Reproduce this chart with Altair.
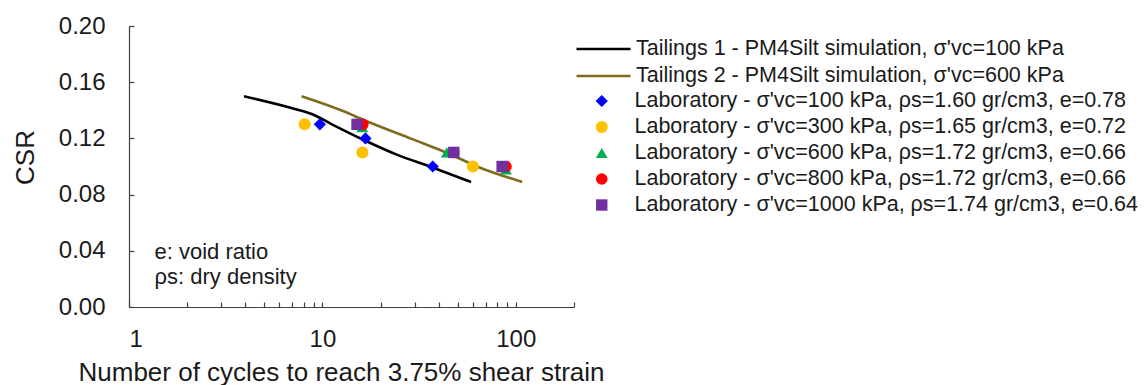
import altair as alt
import pandas as pd

FONT = "Liberation Sans"

# ---- simulation curves ----
line_labels = [
    "Tailings 1 - PM4Silt simulation, σ'vc=100 kPa",
    "Tailings 2 - PM4Silt simulation, σ'vc=600 kPa",
]
line_colors = ["#000000", "#806A1E"]
black_x = [3.93, 7.2, 8.8, 11.2, 16.7, 23.9, 37.1, 58.7]
black_y = [0.150, 0.141, 0.1374, 0.130, 0.1183, 0.1088, 0.0993, 0.089]
gold_x = [7.8, 12.6, 16.7, 29.2, 43.6, 64.9, 108]
gold_y = [0.150, 0.1398, 0.1326, 0.1195, 0.110, 0.0993, 0.089]

# ---- laboratory data ----
lab_labels = [
    "Laboratory - σ'vc=100 kPa, ρs=1.60 gr/cm3, e=0.78",
    "Laboratory - σ'vc=300 kPa, ρs=1.65 gr/cm3, e=0.72",
    "Laboratory - σ'vc=600 kPa, ρs=1.72 gr/cm3, e=0.66",
    "Laboratory - σ'vc=800 kPa, ρs=1.72 gr/cm3, e=0.66",
    "Laboratory - σ'vc=1000 kPa, ρs=1.74 gr/cm3, e=0.64",
]
lab_colors = ["#0000FF", "#FFC000", "#00B050", "#FF0000", "#7030A0"]
lab_shapes = ["diamond", "circle", "triangle-up", "circle", "square"]
lab_sizes = [150, 130, 200, 200, 150]
lab100_x = [9.7, 16.7, 37.2]
lab100_y = [0.13, 0.12, 0.10]
lab300_x = [8.1, 16.1, 60]
lab300_y = [0.13, 0.11, 0.10]
lab600_x = [16.1, 44, 89]
lab600_y = [0.128, 0.11, 0.098]
lab800_x = [16.2, 47.8, 89]
lab800_y = [0.13, 0.11, 0.10]
lab1000_x = [15.1, 47.8, 85]
lab1000_y = [0.13, 0.11, 0.10]

# ---- axes ----
x_label_values = [1, 10, 100]
x_tick_values = [1, 2, 3, 4, 5, 6, 7, 8, 9, 10, 20, 30, 40, 50, 60, 70, 80, 90, 100, 200]
y_values = [0.0, 0.04, 0.08, 0.12, 0.16, 0.20]

# ---- annotations ----
note_text = ["e: void ratio", "ρs: dry density"]
note_x = [1.355, 1.355]
note_y = [0.0394, 0.0217]

W, H = 445, 281

lines_df = pd.DataFrame({
    "N": black_x + gold_x,
    "CSR": black_y + gold_y,
    "series": [line_labels[0]] * len(black_x) + [line_labels[1]] * len(gold_x),
    "order": list(range(len(black_x))) + list(range(len(gold_x))),
})

rows = []
for lab, xs, ys in zip(lab_labels,
                       [lab100_x, lab300_x, lab600_x, lab800_x, lab1000_x],
                       [lab100_y, lab300_y, lab600_y, lab800_y, lab1000_y]):
    for xv, yv in zip(xs, ys):
        rows.append({"N": xv, "CSR": yv, "lab": lab})
points_df = pd.DataFrame(rows)

notes_df = pd.DataFrame({"N": note_x, "CSR": note_y, "text": note_text})

x_scale = alt.Scale(type="log", domain=[1, 200])
y_scale = alt.Scale(domain=[0, 0.2])

lines = alt.Chart(lines_df).mark_line(strokeWidth=2.6, interpolate="monotone").encode(
    x=alt.X("N:Q", scale=x_scale,
            axis=alt.Axis(values=x_label_values, format="d", ticks=False, tickSize=0,
                          labelPadding=20, labelFontSize=24, labelFont=FONT,
                          title="Number of cycles to reach 3.75% shear strain",
                          titleFontSize=26, titleFont=FONT, titleFontWeight="normal",
                          titlePadding=8, titleX=212)),
    y=alt.Y("CSR:Q", scale=y_scale,
            axis=alt.Axis(values=y_values, format=".2f", ticks=False, tickSize=0,
                          labelPadding=24, labelFontSize=24, labelFont=FONT,
                          title="CSR", titleFontSize=26, titleFont=FONT,
                          titleFontWeight="normal", titlePadding=20, titleY=131)),
    color=alt.Color("series:N",
                    scale=alt.Scale(domain=line_labels, range=line_colors),
                    legend=alt.Legend(orient="none", legendX=446, legendY=12, title=None,
                                      symbolType="stroke", symbolSize=2916,
                                      symbolStrokeWidth=2.6, labelFontSize=21.5,
                                      labelFont=FONT, labelOffset=4, clipHeight=22,
                                      rowPadding=5, labelLimit=0, padding=0)),
    order="order:Q",
)

points = alt.Chart(points_df).mark_point(filled=True, opacity=1, strokeWidth=0).encode(
    x=alt.X("N:Q", scale=x_scale,
            axis=alt.Axis(orient="top", offset=-H, values=x_tick_values, labels=False,
                          domain=False, ticks=True, tickSize=5, title=None)),
    y=alt.Y("CSR:Q", scale=y_scale,
            axis=alt.Axis(orient="right", offset=-W, values=y_values, labels=False,
                          domain=False, ticks=True, tickSize=5, title=None)),
    color=alt.Color("lab:N", scale=alt.Scale(domain=lab_labels, range=lab_colors),
                    legend=alt.Legend(orient="none", legendX=446, legendY=64, title=None,
                                      symbolSize=100, labelFontSize=21.5, labelFont=FONT,
                                      symbolOffset=16, labelOffset=22, clipHeight=22,
                                      rowPadding=4, labelLimit=0, padding=0,
                                      symbolStrokeWidth=0)),
    shape=alt.Shape("lab:N", scale=alt.Scale(domain=lab_labels, range=lab_shapes)),
    size=alt.Size("lab:N", scale=alt.Scale(domain=lab_labels, range=lab_sizes), legend=None),
    order=alt.Order("idx:Q"),
).transform_window(idx="row_number()")

notes = alt.Chart(notes_df).mark_text(align="left", baseline="middle", fontSize=22,
                                      font=FONT, color="#1a1a1a").encode(
    x=alt.X("N:Q", scale=x_scale, axis=None),
    y=alt.Y("CSR:Q", scale=y_scale, axis=None),
    text="text:N",
)

chart = alt.layer(lines, points, notes).resolve_scale(
    color="independent", shape="independent", size="independent"
).resolve_axis(
    x="independent", y="independent"
).properties(
    width=W, height=H, autosize="none",
    padding={"left": 129, "top": 26, "right": 1146 - 129 - W, "bottom": 385 - 26 - H},
).configure_view(stroke=None).configure_axis(
    grid=False, domainColor="#404040", tickColor="#404040", domainWidth=1.2,
    tickWidth=1.2, labelColor="#1a1a1a", titleColor="#1a1a1a",
).configure_legend(labelColor="#1a1a1a")

chart.save("out.html", embed_options={"renderer": "svg", "actions": False})
